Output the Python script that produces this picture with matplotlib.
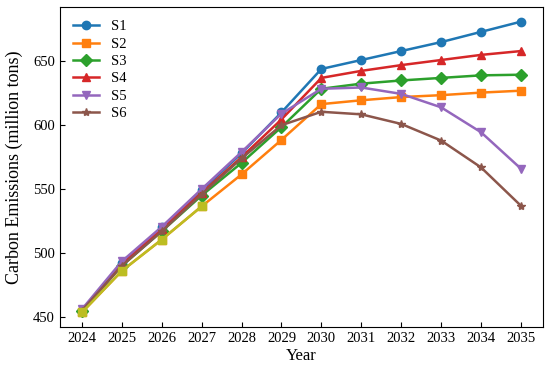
import matplotlib
matplotlib.use("Agg")
import matplotlib.pyplot as plt

plt.rcParams["font.family"] = ["Liberation Serif", "DejaVu Serif"]
plt.rcParams["mathtext.fontset"] = "stix"

# datos
anios = [2024, 2025, 2026, 2027, 2028, 2029, 2030, 2031, 2032, 2033, 2034, 2035]
s1 = [455, 492, 520, 549, 578, 610, 644, 651, 658, 665, 673, 681]
s2 = [453.5, 486, 510.5, 536.5, 561.5, 588.5, 616.5, 619.5, 622, 623.5, 625.5, 627]
s3 = [455, 490, 517, 545, 570.5, 598.5, 628.5, 632.5, 635, 637, 639, 639.5]
s4 = [455, 491, 519, 547, 575, 604.5, 637, 642.5, 647, 651, 655, 658]
s5 = [456, 493.5, 520.5, 550, 579, 609, 628.5, 629.5, 624.5, 614, 594.5, 566]
s6 = [455, 490, 517, 546, 574, 600, 610.5, 608.5, 601, 588, 567, 537]

series = [("S1", s1, "o"), ("S2", s2, "s"), ("S3", s3, "D"),
          ("S4", s4, "^"), ("S5", s5, "v"), ("S6", s6, "*")]

fig, ax = plt.subplots(figsize=(5.5, 3.75), dpi=100)

for nombre, valores, marcador in series:
    ax.plot(anios, valores, marker=marcador, markersize=6, linewidth=1.8, label=nombre)

# tramo historico en color oliva (sin leyenda)
ax.plot(anios[:4], s2[:4], marker="s", markersize=6, linewidth=1.8, color="tab:olive")

ax.set_xticks(anios)
ax.set_xlabel("Year", fontsize=12, labelpad=2)
ax.set_ylabel("Carbon Emissions (million tons)", fontsize=13)
ax.yaxis.set_label_coords(-0.077, 0.5)
ax.tick_params(direction="in", labelsize=10.5)
ax.legend(loc="upper left", frameon=False, fontsize=10.5, labelspacing=0.28,
          handlelength=1.8)

fig.subplots_adjust(left=0.109, right=0.987, top=0.981, bottom=0.128)
fig.savefig("out.png", dpi=100)
